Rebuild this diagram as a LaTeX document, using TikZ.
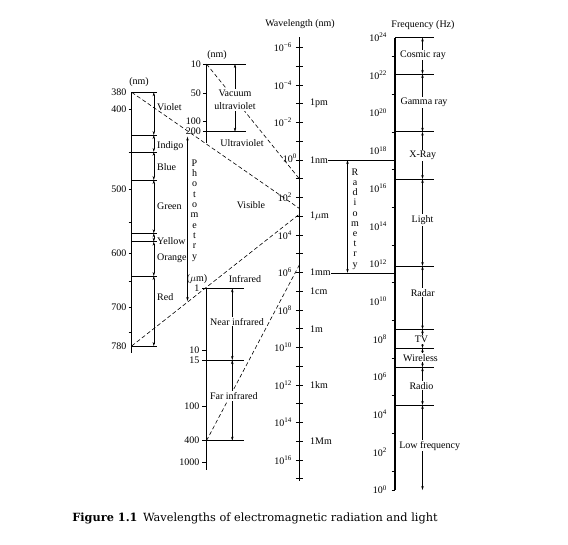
\documentclass[tikz,border=0pt]{standalone}
\usepackage{fontspec}
\setmainfont{Liberation Serif}
\newfontfamily\capfont{DejaVu Serif}
\usepackage{tikz}
\usetikzlibrary{arrows.meta}

\newcommand{\tenp}[1]{10\textsuperscript{#1}}

\begin{document}
\begin{tikzpicture}[x=1pt, y=-1pt, font=\fontsize{10}{12}\selectfont,
    >={Stealth[length=4pt, width=2.4pt]},
    axis/.style={line width=1.3pt},
    band/.style={line width=0.5pt},
    span/.style={<->, line width=0.4pt},
    proj/.style={line width=0.6pt, dash pattern=on 4pt off 2.5pt},
    lbl/.style={inner sep=1pt},
    tag/.style={inner sep=1pt, fill=white}]
    \useasboundingbox (0,0) rectangle (568,544);
    
    % Projections onto the wavelength axis
    \coordinate (vis380) at (131.7,92.3);
    \coordinate (vis780) at (131.7,346);
    \coordinate (uv10) at (206.5,64);
    \coordinate (ir400) at (206.5,440.7);
    \coordinate (w10) at (299.3,178.75);
    \coordinate (w380) at (299.3,208.4);
    \coordinate (w780) at (299.3,214.2);
    \coordinate (w400) at (299.3,265);
    \draw[proj] (uv10) -- (w10);
    \draw[proj] (vis380) -- (w380);
    \draw[proj] (vis780) -- (w780);
    \draw[proj] (ir400) -- (w400);
    
    % Wavelength axis
    \node[lbl] (wtitle) at (300,24) {Wavelength (nm)};
    \draw[axis] (299.3,37) -- (299.3,481);
    \foreach \e in {-6,...,17}
        \draw[line width=0.7pt] (295.8,{160+18.75*\e}) -- (302.8,{160+18.75*\e});
    \foreach \e/\t in {-6/−6, -4/−4, -2/−2, 2/2, 4/4, 6/6, 8/8, 10/10, 12/12, 14/14, 16/16}
        \node[lbl, anchor=east] at (293,{160+18.75*\e}) {\tenp{\t}};
    \node[lbl, anchor=east] at (298,158) {\tenp{0}};
    \foreach \e/\t in {-3/1pm, 0/1nm, 3/1$\mu$m, 6/1mm, 7/1cm, 9/1m, 12/1km, 15/1Mm}
        \node[lbl, anchor=west] at (309,{160+18.75*\e}) {\t};
    
    % Radiometry
    \coordinate (nmL) at (328,160);
    \coordinate (nmR) at (395,160);
    \coordinate (mmL) at (331,272.8);
    \coordinate (mmR) at (395,272.8);
    \draw[band] (nmL) -- (nmR);
    \draw[band] (mmL) -- (mmR);
    \coordinate (radT) at (347.5,160);
    \coordinate (radB) at (347.5,272.8);
    \draw[span] (radT) -- (radB);
    \node[lbl, align=center, font=\fontsize{10}{10.2}\selectfont] (radio) at (355,219)
        {R\\a\\d\\i\\o\\m\\e\\t\\r\\y};
    
    % Frequency axis
    \node[lbl] (ftitle) at (423,25) {Frequency (Hz)};
    \draw[axis] (395,37.5) -- (395,490);
    \draw[band] (391.5,490) -- (395,490);
    \foreach \k in {1,3,...,23}
        \draw[band] (391.5,{37.5+18.85*(24-\k)}) -- (395,{37.5+18.85*(24-\k)});
    \foreach \k in {0,2,...,24}
        \node[lbl, anchor=east] at (388,{37.5+18.85*(24-\k)}) {\tenp{\k}};
    \foreach \ya/\yb/\xt/\yt/\txt in {37.5/74/423/55/Cosmic ray, 74/131.7/424/102.7/Gamma ray,
            131.7/179/422.7/155.7/X-Ray, 179/266/422.5/220/Light, 266/329.3/422.7/292.7/Radar,
            329.3/348.3/421.5/339.3/TV, 348.3/367.3/420.5/357.7/Wireless,
            367.3/405/421.5/385.7/Radio, 405/490/429.7/445.7/Low frequency} {
        \draw[band] (395,\ya) -- (434,\ya);
        \draw[span] (422.5,\ya) -- (422.5,\yb);
        \node[tag] at (\xt,\yt) {\txt};
    }
    
    % Visible scale
    \node[lbl] (visnm) at (139,82) {(nm)};
    \draw[axis] (131.7,92.3) -- (131.7,353);
    \foreach \y in {109.3,151.9,189.1,222.7,253.4,281.6,307.7,332}
        \draw[band] (128.5,\y) -- (131.7,\y);
    \foreach \y/\t in {92.3/380, 109.3/400, 189.1/500, 253.4/600, 307.7/700, 346/780}
        \node[lbl, anchor=east] at (127.5,\y) {\t};
    \foreach \ya/\yb/\yt/\txt in {92.3/135/106.7/Violet, 135/151.9/146/Indigo,
            151.9/180/166.7/Blue, 180/233.3/206/Green, 233.3/241.7/240.7/Yellow,
            241.7/276/258.3/Orange, 276/346/297.3/Red} {
        \draw[band] (131.7,\ya) -- (157.3,\ya);
        \draw[span] (153.8,\ya) -- (153.8,\yb);
        \node[lbl, anchor=west] at (156,\yt) {\txt};
    }
    \draw[band] (131.7,346) -- (157.3,346);
    
    % Photometry
    \coordinate (phoT) at (187.5,136.7);
    \coordinate (phoB) at (187.5,301);
    \draw[span] (phoT) -- (phoB);
    \node[lbl, align=center, font=\fontsize{10}{10.3}\selectfont] (photo) at (194.5,210.5)
        {P\\h\\o\\t\\o\\m\\e\\t\\r\\y};
    \node[lbl] (visible) at (251,205) {Visible};
    
    % Ultraviolet scale
    \node[lbl] (uvnm) at (217,55) {(nm)};
    \draw[axis] (206.5,64) -- (206.5,143.3);
    \foreach \y/\t in {64/10, 93.3/50, 121/100, 131.7/200} {
        \draw[band] (203,\y) -- (206.5,\y);
        \node[lbl, anchor=east] at (202,\y) {\t};
    }
    \draw[band] (206.5,64) -- (245.7,64);
    \draw[band] (206.5,131.7) -- (245.7,131.7);
    \draw[span] (235,64) -- (235,131.7);
    \node[tag, align=center, font=\fontsize{10}{13.4}\selectfont] (vuv) at (235,100) {Vacuum\\ultraviolet};
    \node[lbl] (uv) at (242,143.3) {Ultraviolet};
    
    % Infrared scale
    \node[lbl] (irum) at (197,279) {($\mu$m)};
    \node[lbl] (ir) at (245,279) {Infrared};
    \draw[axis] (206.5,288.3) -- (206.5,470);
    \foreach \y/\t in {288.3/1, 350/10, 360/15, 406.7/100, 440.7/400, 462.7/1000} {
        \draw[band] (202,\y) -- (206.5,\y);
        \node[lbl, anchor=east] at (200.5,\y) {\t};
    }
    \draw[band] (206.5,288.3) -- (243.5,288.3);
    \draw[band] (206.5,360) -- (243.5,360);
    \draw[band] (206.5,440.7) -- (243.5,440.7);
    \draw[span] (232.3,288.3) -- (232.3,360);
    \draw[span] (232.3,360) -- (232.3,440.7);
    \node[tag] (nir) at (237,321.7) {Near infrared};
    \node[tag] (fir) at (233.8,396) {Far infrared};
    
    \node[lbl, font=\capfont\fontsize{11.3}{13}\selectfont] (caption) at (255,518)
        {\textbf{Figure 1.1}\, Wavelengths of electromagnetic radiation and light};
\end{tikzpicture}
\end{document}
